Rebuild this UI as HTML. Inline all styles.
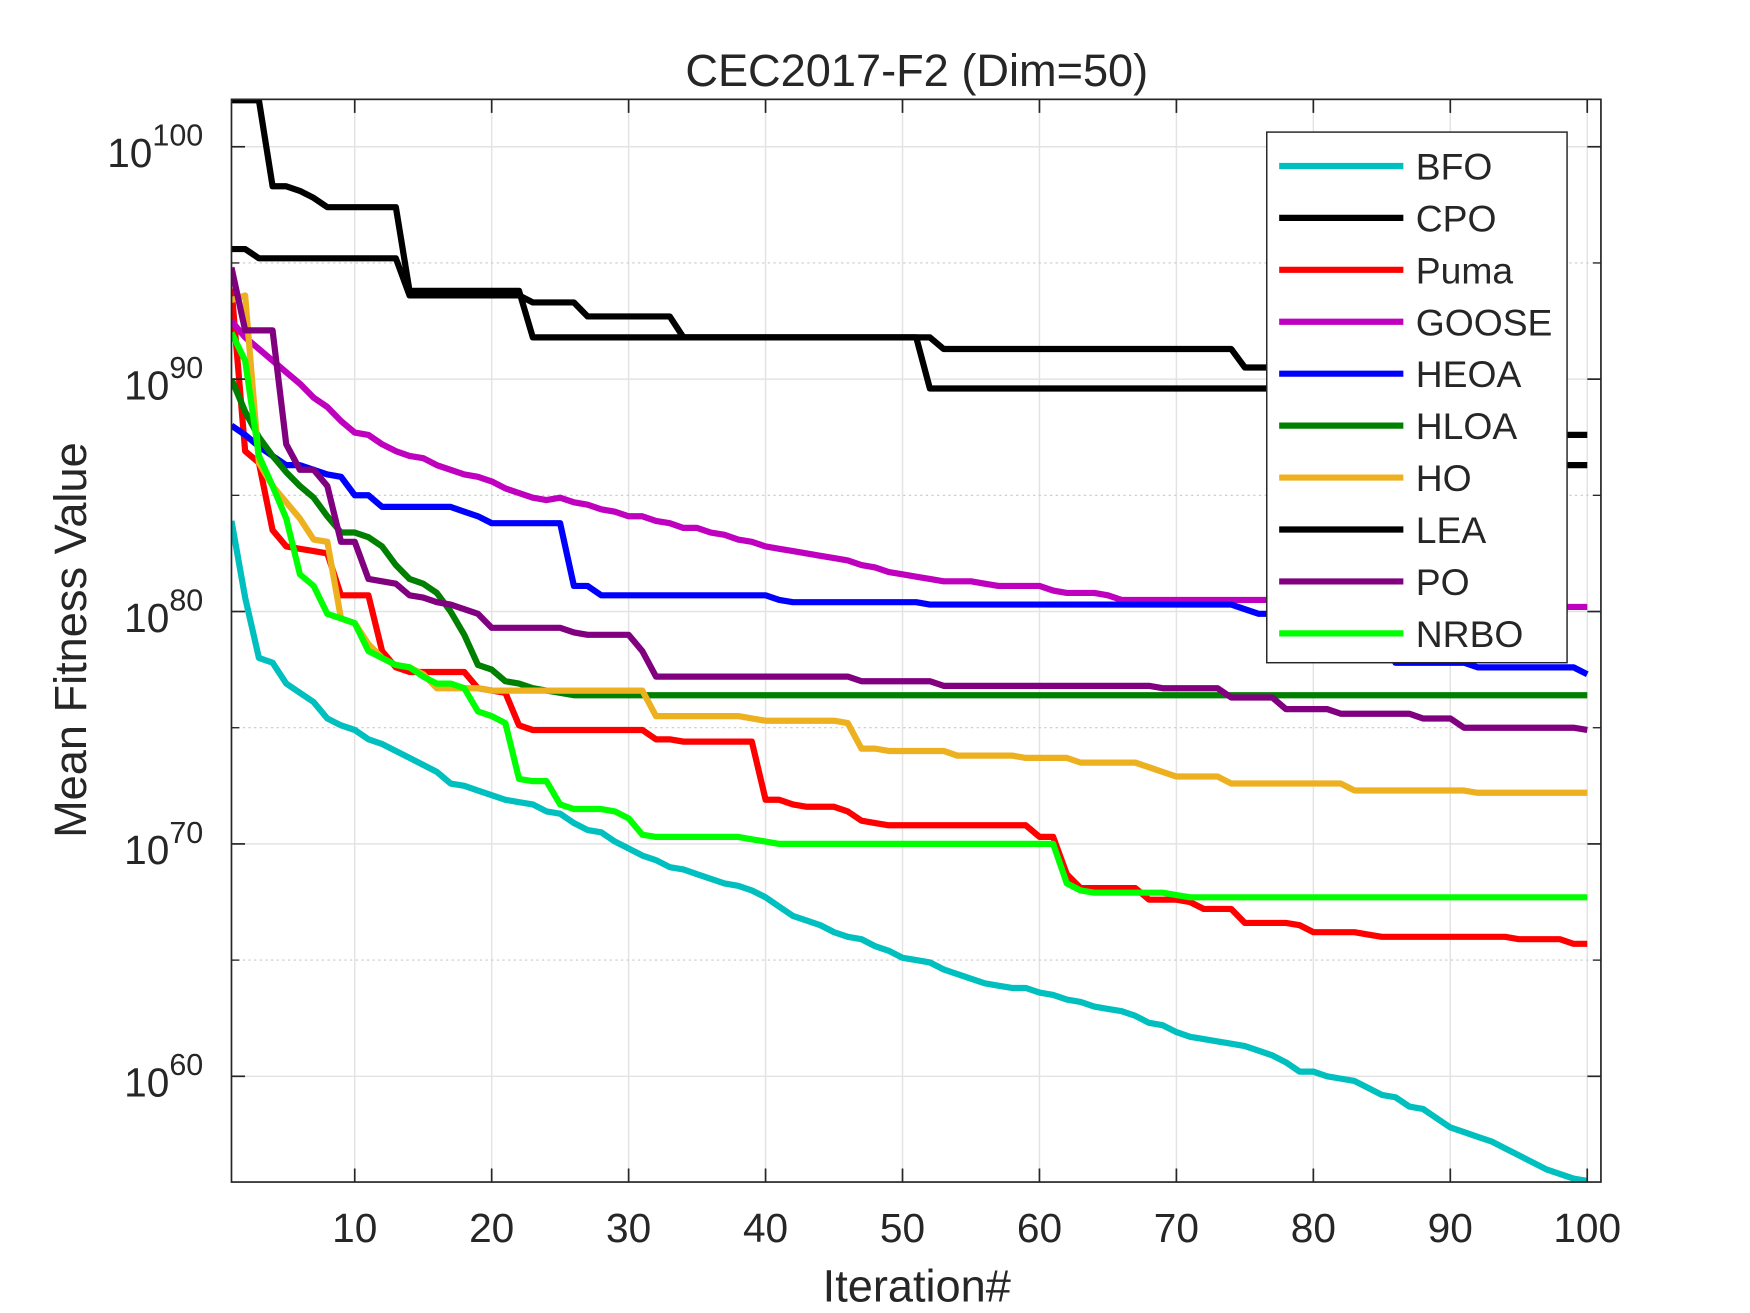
<!DOCTYPE html>
<html><head><meta charset="utf-8"><style>
html,body{margin:0;padding:0;background:#fff;}
svg{display:block;}
text{font-family:"Liberation Sans",Arial,sans-serif;fill:#262626;}
</style></head><body>
<svg id="chart" width="1750" height="1313" viewBox="0 0 1550 1163" xmlns="http://www.w3.org/2000/svg">
<rect x="0" y="0" width="1550" height="1163" fill="#fff"/>
<defs><clipPath id="plotclip"><rect x="205" y="88" width="1213" height="959"/></clipPath></defs>
<g id="grid"></g>
<g id="series" clip-path="url(#plotclip)"></g>
<g id="axes"></g>
<text x="812" y="76" font-size="40" text-anchor="middle">CEC2017-F2 (Dim=50)</text>
<text x="812" y="1153" font-size="40" text-anchor="middle">Iteration#</text>
<text transform="translate(76,567) rotate(-90)" font-size="40" text-anchor="middle">Mean Fitness Value</text>
<g id="legend"></g>
</svg>
<script>
// ---- data (log10 of mean fitness) ----
const names = ["BFO","CPO","Puma","GOOSE","HEOA","HLOA","HO","LEA","PO","NRBO"];
const colors = ["#00BFBF","#000000","#FF0000","#BF00BF","#0000FF","#008000","#EDB120","#000000","#800080","#00FF00"];
const xTicks = [10,20,30,40,50,60,70,80,90,100];
const yTicks = [60,70,80,90,100];
const yMinor = [65,75,85,95];

const bfoVals = [83.9,80.6,78.0,77.8,76.9,76.5,76.1,75.4,75.1,74.9,74.5,74.3,74.0,73.7,73.4,73.1,72.6,72.5,72.3,72.1,71.9,71.8,71.7,71.4,71.3,70.9,70.6,70.5,70.1,69.8,69.5,69.3,69.0,68.9,68.7,68.5,68.3,68.2,68.0,67.7,67.3,66.9,66.7,66.5,66.2,66.0,65.9,65.6,65.4,65.1,65.0,64.9,64.6,64.4,64.2,64.0,63.9,63.8,63.8,63.6,63.5,63.3,63.2,63.0,62.9,62.8,62.6,62.3,62.2,61.9,61.7,61.6,61.5,61.4,61.3,61.1,60.9,60.6,60.2,60.2,60.0,59.9,59.8,59.5,59.2,59.1,58.7,58.6,58.2,57.8,57.6,57.4,57.2,56.9,56.6,56.3,56.0,55.8,55.6,55.5];

// change-point series: value holds from listed iteration until next listed iteration
const cpoIt  = [1,3,4,6,7,8,13,14,22,23,51,52,85,86,100];
const cpoVal = [102.0,102.0,98.3,98.1,97.8,97.4,97.4,93.8,93.8,91.8,91.8,89.6,89.6,86.3,86.3];
const leaIt  = [1,3,13,14,22,23,26,27,32,34,51,53,74,75,88,90,100];
const leaVal = [95.6,95.2,95.2,93.6,93.6,93.3,93.3,92.7,92.7,91.8,91.8,91.3,91.3,90.5,90.5,87.6,87.6];
const gooseIt  = [1,2,3,4,5,6,7,8,9,10,11,12,13,14,15,16,17,18,19,20,21,22,23,24,25,26,27,28,29,30,31,32,33,34,35,36,37,38,39,40,41,42,43,44,45,46,47,48,49,50,51,52,53,54,56,57,60,61,62,64,65,66,88,90,100];
const gooseVal = [92.5,91.8,91.3,90.8,90.3,89.8,89.2,88.8,88.2,87.7,87.6,87.2,86.9,86.7,86.6,86.3,86.1,85.9,85.8,85.6,85.3,85.1,84.9,84.8,84.9,84.7,84.6,84.4,84.3,84.1,84.1,83.9,83.8,83.6,83.6,83.4,83.3,83.1,83.0,82.8,82.7,82.6,82.5,82.4,82.3,82.2,82.0,81.9,81.7,81.6,81.5,81.4,81.3,81.3,81.2,81.1,81.1,80.9,80.8,80.8,80.7,80.5,80.5,80.2,80.2];
const heoaIt  = [1,2,3,4,5,6,7,8,9,10,11,12,17,18,19,20,25,26,27,28,40,41,42,51,52,75,76,84,86,91,92,99,100];
const heoaVal = [88.0,87.6,87.1,86.7,86.3,86.3,86.1,85.9,85.8,85.0,85.0,84.5,84.5,84.3,84.1,83.8,83.8,81.1,81.1,80.7,80.7,80.5,80.4,80.4,80.3,80.1,79.9,79.9,77.8,77.8,77.6,77.6,77.3];
const hloaIt  = [1,2,3,4,5,6,7,8,9,10,11,12,13,14,15,16,17,18,19,20,21,22,23,24,25,26,100];
const hloaVal = [90.0,88.6,87.5,86.7,86.0,85.4,84.9,84.1,83.4,83.4,83.2,82.8,82.0,81.4,81.2,80.8,80.0,79.0,77.7,77.5,77.0,76.9,76.7,76.6,76.5,76.4,76.4];
const pumaIt  = [1,2,3,4,5,6,7,8,9,11,12,13,14,18,19,20,21,22,23,31,32,33,34,39,40,41,42,43,44,45,46,47,48,49,59,60,61,62,63,67,68,70,71,72,74,75,78,79,80,83,84,85,86,92,93,95,96,98,99,100];
const pumaVal = [93.9,86.9,86.4,83.5,82.8,82.7,82.6,82.5,80.7,80.7,78.3,77.6,77.4,77.4,76.7,76.6,76.5,75.1,74.9,74.9,74.5,74.5,74.4,74.4,71.9,71.9,71.7,71.6,71.6,71.6,71.4,71.0,70.9,70.8,70.8,70.3,70.3,68.7,68.1,68.1,67.6,67.6,67.5,67.2,67.2,66.6,66.6,66.5,66.2,66.2,66.1,66.0,66.0,66.0,66.0,65.9,65.9,65.9,65.7,65.7];
const hoIt  = [1,2,3,4,5,6,7,8,9,10,11,12,13,14,15,16,19,20,31,32,38,39,40,45,46,47,48,49,50,53,54,58,59,62,63,64,67,68,69,70,72,73,74,82,83,84,91,92,100];
const hoVal = [93.4,93.6,86.4,85.4,84.7,84.0,83.1,83.0,79.7,79.5,78.6,78.0,77.7,77.6,77.3,76.7,76.7,76.6,76.6,75.5,75.5,75.4,75.3,75.3,75.2,74.1,74.1,74.0,74.0,74.0,73.8,73.8,73.7,73.7,73.5,73.5,73.5,73.3,73.1,72.9,72.9,72.9,72.6,72.6,72.3,72.3,72.3,72.2,72.2];
const poIt  = [1,2,4,5,6,8,9,10,11,12,13,14,15,16,17,18,19,20,25,26,27,30,31,32,46,47,52,53,68,69,73,74,77,78,81,82,87,88,90,91,99,100];
const poVal = [94.8,92.1,92.1,87.2,86.1,85.4,83.0,83.0,81.4,81.3,81.2,80.7,80.6,80.4,80.3,80.1,79.9,79.3,79.3,79.1,79.0,79.0,78.3,77.2,77.2,77.0,77.0,76.8,76.8,76.7,76.7,76.3,76.3,75.8,75.8,75.6,75.6,75.4,75.4,75.0,75.0,74.9];
const nrboIt  = [1,2,3,4,5,6,7,8,9,10,11,12,13,14,15,16,17,18,19,20,21,22,23,24,25,26,28,29,30,31,32,38,39,40,41,61,62,63,64,68,69,70,71,76,77,78,100];
const nrboVal = [92.0,90.8,86.7,85.4,84.0,81.6,81.1,79.9,79.7,79.5,78.3,78.0,77.7,77.6,77.2,76.9,76.9,76.7,75.7,75.5,75.2,72.8,72.7,72.7,71.7,71.5,71.5,71.4,71.1,70.4,70.3,70.3,70.2,70.1,70.0,70.0,68.3,68.0,67.9,67.9,67.9,67.8,67.7,67.7,67.7,67.7,67.7];

// ---- scales ----
const X0=205, X1=1418, Y0=88, Y1=1047;
const xMin=1, xMax=101, yMax=102.04, yMin=55.45;
function xs(i){return X0+(i-xMin)/(xMax-xMin)*(X1-X0);}
function ys(v){return Y0+(yMax-v)/(yMax-yMin)*(Y1-Y0);}
function expand(it,val){const out=[];let k=0;for(let i=1;i<=100;i++){while(k+1<it.length&&it[k+1]<=i)k++;out.push(val[k]);}return out;}

const seriesData = [bfoVals, expand(cpoIt,cpoVal), expand(pumaIt,pumaVal), expand(gooseIt,gooseVal), expand(heoaIt,heoaVal), expand(hloaIt,hloaVal), expand(hoIt,hoVal), expand(leaIt,leaVal), expand(poIt,poVal), expand(nrboIt,nrboVal)];

const NS="http://www.w3.org/2000/svg";
function mk(tag,attrs,parent){const e=document.createElementNS(NS,tag);for(const k in attrs)e.setAttribute(k,attrs[k]);parent.appendChild(e);return e;}

const grid=document.getElementById('grid');
xTicks.forEach(t=>{const l=mk('line',{x1:xs(t),x2:xs(t),y1:Y0,y2:Y1,stroke:'#e3e3e3','stroke-width':1.3},grid);

});
yTicks.forEach(t=>{const l=mk('line',{x1:X0,x2:X1,y1:ys(t),y2:ys(t),stroke:'#e3e3e3','stroke-width':1.3},grid);

});
yMinor.forEach(t=>{const l=mk('line',{x1:X0,x2:X1,y1:ys(t),y2:ys(t),stroke:'#c8c8c8','stroke-width':1,'stroke-dasharray':'2 3'},grid);

});

const sg=document.getElementById('series');
seriesData.forEach((vals,si)=>{
  const pts=vals.map((v,i)=>xs(i+1).toFixed(1)+','+ys(v).toFixed(1)).join(' ');
  const p=mk('polyline',{points:pts,fill:'none',stroke:colors[si],'stroke-width':5.5,'stroke-linejoin':'round'},sg);
  
  
});

const ax=document.getElementById('axes');
const box=mk('rect',{x:X0,y:Y0,width:X1-X0,height:Y1-Y0,fill:'none',stroke:'#262626','stroke-width':1.5},ax);


xTicks.forEach(t=>{
  mk('line',{x1:xs(t),x2:xs(t),y1:Y1,y2:Y1-12,stroke:'#262626','stroke-width':1.5},ax);
  mk('line',{x1:xs(t),x2:xs(t),y1:Y0,y2:Y0+12,stroke:'#262626','stroke-width':1.5},ax);
  const tx=mk('text',{x:xs(t),y:1100,'font-size':36,'text-anchor':'middle'},ax);
  tx.textContent=t;
  
  
});
yTicks.forEach(t=>{
  mk('line',{x1:X0,x2:X0+12,y1:ys(t),y2:ys(t),stroke:'#262626','stroke-width':1.5},ax);
  mk('line',{x1:X1,x2:X1-12,y1:ys(t),y2:ys(t),stroke:'#262626','stroke-width':1.5},ax);
  const tx=mk('text',{x:180,y:ys(t)+18,'font-size':36,'text-anchor':'end'},ax);
  tx.innerHTML='10<tspan dy="-19" font-size="27">'+t+'</tspan>';
  
  
});
yMinor.forEach(t=>{
  mk('line',{x1:X0,x2:X0+7,y1:ys(t),y2:ys(t),stroke:'#262626','stroke-width':1.2},ax);
  mk('line',{x1:X1,x2:X1-7,y1:ys(t),y2:ys(t),stroke:'#262626','stroke-width':1.2},ax);
});

const lg=document.getElementById('legend');
const lb=mk('rect',{x:1122,y:117,width:266,height:470,fill:'#fff',stroke:'#262626','stroke-width':1.3},lg);


names.forEach((n,i)=>{
  const y=147+i*46.0;
  const g=mk('g',{},lg);
  
  
  mk('line',{x1:1133,x2:1243,y1:y,y2:y,stroke:colors[i],'stroke-width':5.5},g);
  const t=mk('text',{x:1254,y:y+12,'font-size':33},g);
  t.textContent=n;
});
</script>
</body></html>
